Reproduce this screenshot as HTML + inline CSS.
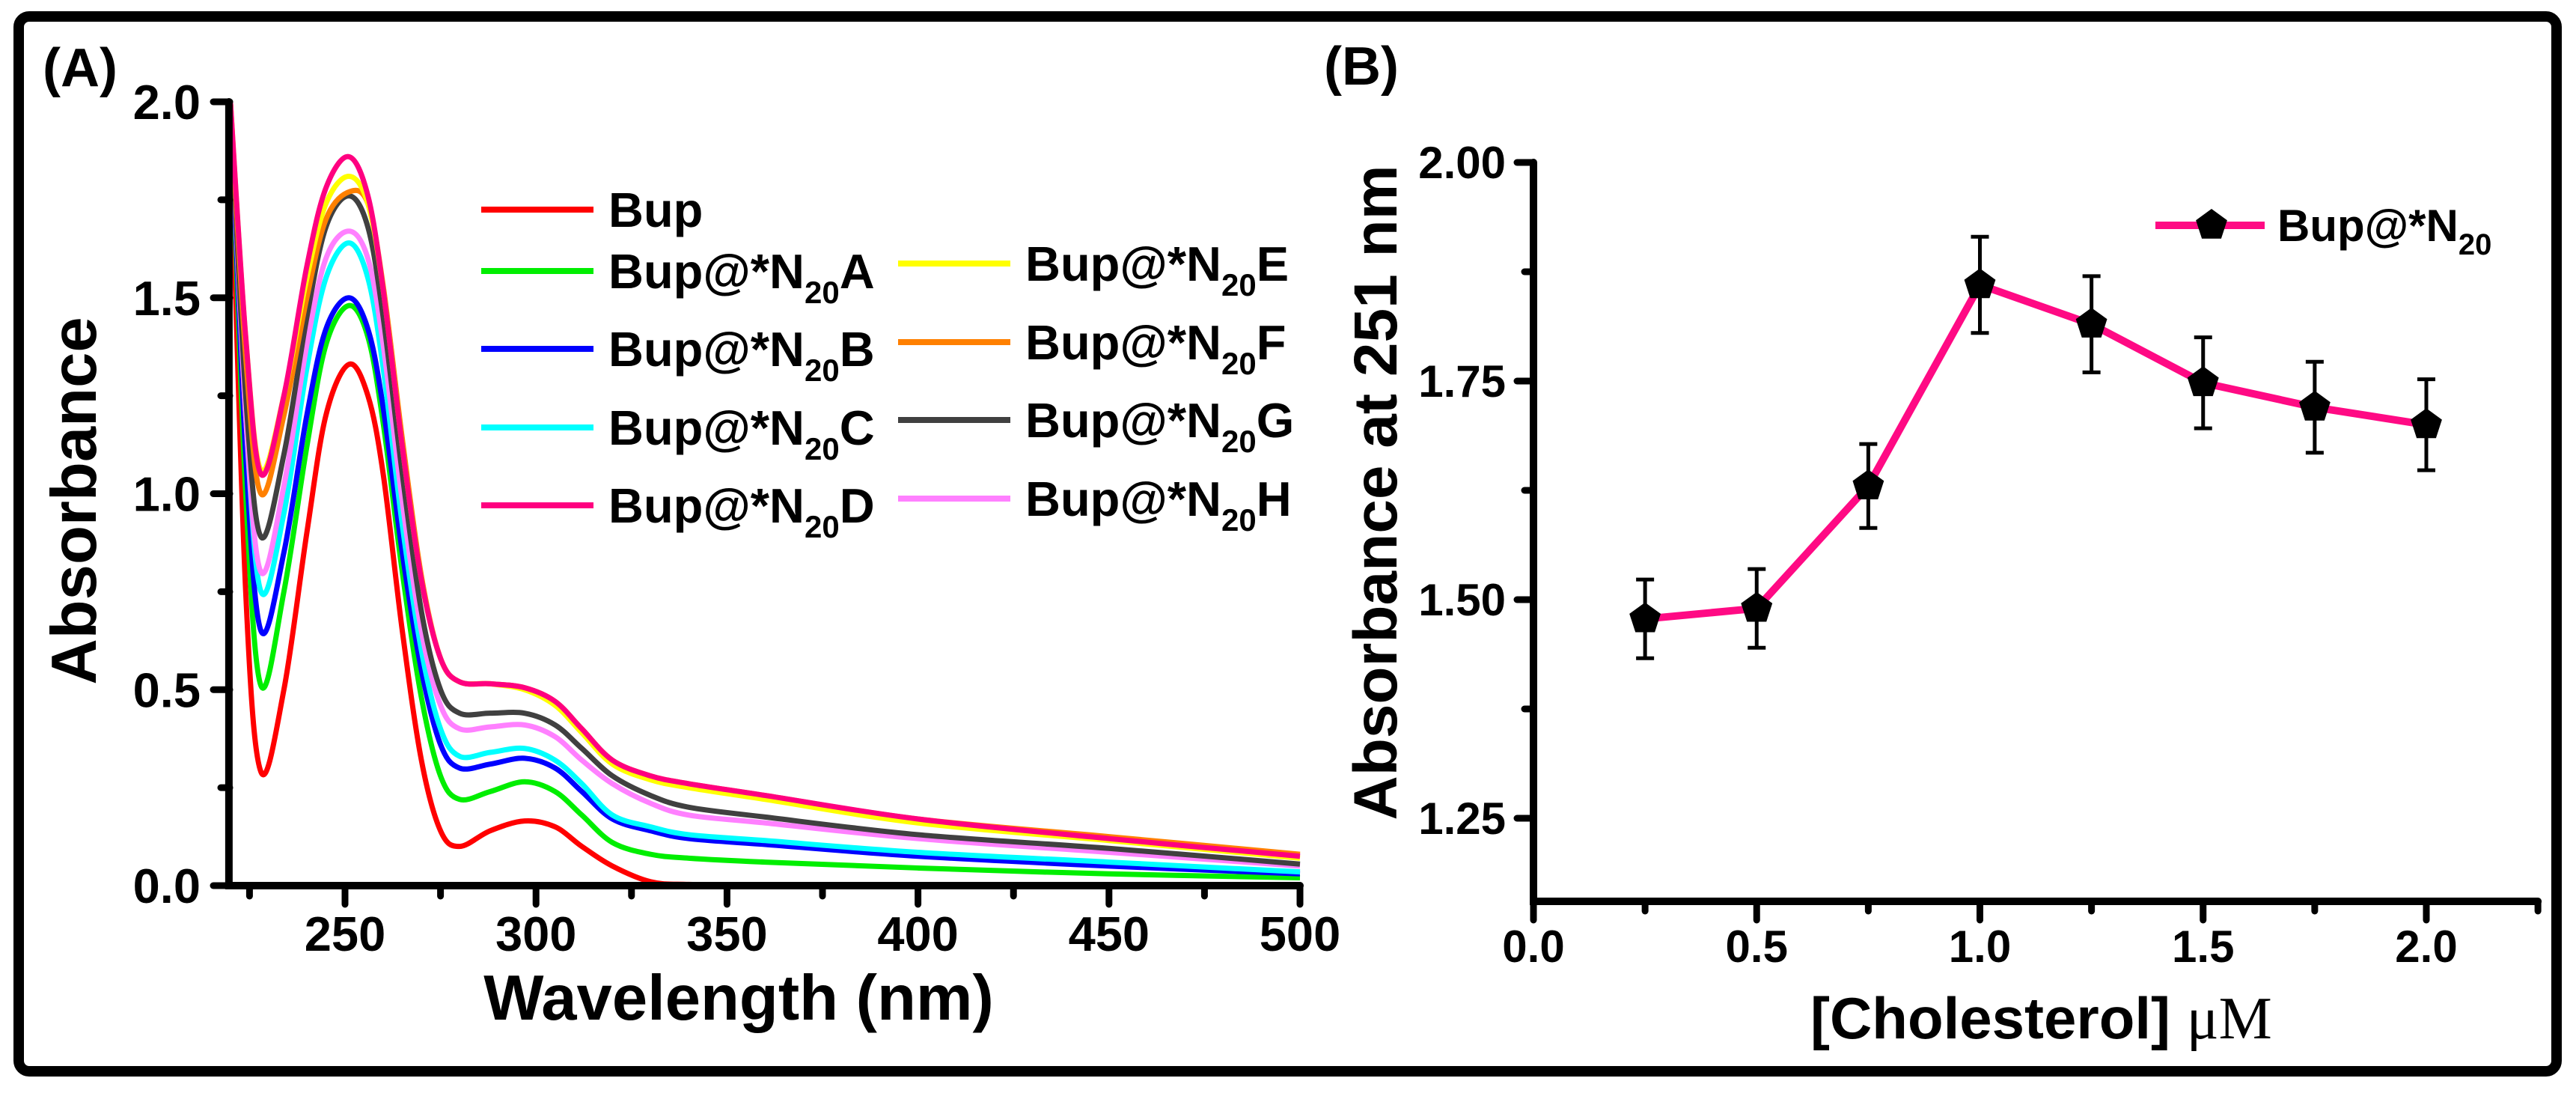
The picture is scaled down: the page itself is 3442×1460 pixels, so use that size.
<!DOCTYPE html>
<html><head><meta charset="utf-8"><style>
html,body{margin:0;padding:0;background:#fff}
svg{display:block}
text{font-family:"Liberation Sans",Arial,sans-serif;font-weight:bold;fill:#000}
</style></head><body>
<svg id="fig" width="3442" height="1460" viewBox="0 0 3442 1460" xmlns="http://www.w3.org/2000/svg">
<rect x="25" y="22" width="3391" height="1409" rx="14" fill="none" stroke="#000" stroke-width="14"/>
<text x="57" y="115" font-size="72">(A)</text>
<text x="1769" y="113" font-size="72">(B)</text>
<g id="gA"></g>
<g id="gB"></g>
</svg>
<script>
// ---------- Panel A data ----------
const wavelengths = [220,224,228,234,240,245,251,256,260,265,270,275,280,288,297,305,312,320,330,340,360,400,450,500];
const seriesNames = ["Bup","Bup@*N20A","Bup@*N20B","Bup@*N20C","Bup@*N20D","Bup@*N20E","Bup@*N20F","Bup@*N20G","Bup@*N20H"];
const seriesColors = ["#ff0000","#00ee00","#0000ff","#00ffff","#ff0080","#ffff00","#ff8000","#404040","#ff80ff"];
const absBup = [1.95,0.75,0.29,0.5,0.9,1.2,1.33,1.25,1.05,0.65,0.32,0.14,0.10,0.14,0.165,0.15,0.10,0.05,0.01,0.003,0.002,0.002,0.002,0.002];
const absA = [2.0,1.0,0.51,0.75,1.12,1.38,1.48,1.40,1.18,0.8,0.48,0.28,0.22,0.24,0.265,0.24,0.18,0.11,0.08,0.07,0.06,0.045,0.03,0.02];
const absB = [2.0,1.1,0.65,0.85,1.2,1.42,1.50,1.42,1.22,0.85,0.55,0.36,0.30,0.31,0.325,0.30,0.24,0.17,0.14,0.12,0.105,0.075,0.05,0.03];
const absC = [2.0,1.2,0.75,0.95,1.32,1.55,1.64,1.55,1.32,0.92,0.6,0.40,0.33,0.34,0.35,0.32,0.26,0.18,0.15,0.13,0.115,0.085,0.06,0.035];
const absD = [2.0,1.4,1.05,1.25,1.58,1.78,1.86,1.76,1.52,1.12,0.78,0.58,0.52,0.515,0.505,0.47,0.40,0.32,0.28,0.26,0.23,0.17,0.12,0.075];
const absE = [2.0,1.4,1.06,1.25,1.55,1.74,1.81,1.74,1.52,1.12,0.78,0.58,0.52,0.515,0.50,0.46,0.39,0.31,0.27,0.25,0.22,0.16,0.115,0.07];
const absF = [2.0,1.35,1.0,1.2,1.5,1.70,1.77,1.74,1.53,1.14,0.79,0.58,0.52,0.515,0.505,0.47,0.40,0.32,0.28,0.26,0.23,0.17,0.125,0.08];
const absG = [2.0,1.25,0.89,1.1,1.45,1.68,1.76,1.68,1.45,1.05,0.7,0.50,0.44,0.44,0.44,0.41,0.35,0.28,0.23,0.20,0.175,0.13,0.095,0.055];
const absH = [2.0,1.2,0.80,1.02,1.38,1.6,1.67,1.6,1.38,0.98,0.65,0.46,0.40,0.405,0.41,0.38,0.32,0.26,0.21,0.18,0.16,0.12,0.085,0.05];
const xTicksA = [250,300,350,400,450,500];
const yTicksA = [0.0,0.5,1.0,1.5,2.0];
const yTickLabelsA = ["0.0","0.5","1.0","1.5","2.0"];

// ---------- Panel B data ----------
const cholesterol = [0.25,0.5,0.75,1.0,1.25,1.5,1.75,2.0];
const abs251 = [1.478,1.49,1.63,1.86,1.815,1.748,1.72,1.70];
const abs251Err = [0.045,0.045,0.048,0.055,0.055,0.052,0.052,0.052];
const xTicksB = [0.0,0.5,1.0,1.5,2.0];
const xTickLabelsB = ["0.0","0.5","1.0","1.5","2.0"];
const yTicksB = [1.25,1.50,1.75,2.00];
const yTickLabelsB = ["1.25","1.50","1.75","2.00"];

const NS="http://www.w3.org/2000/svg";
function mk(tag,attrs,parent){const e=document.createElementNS(NS,tag);for(const k in attrs)e.setAttribute(k,attrs[k]);parent.appendChild(e);return e;}

// ---- Panel A axes ----
const xA = w => 461 + (w-250)*5.104;
const yA = v => 1183 - v*523.5;
const gA = document.getElementById('gA');
function smooth(pts){
  let d=`M${pts[0][0]},${pts[0][1]}`;
  for(let i=0;i<pts.length-1;i++){
    const p0=pts[Math.max(0,i-1)],p1=pts[i],p2=pts[i+1],p3=pts[Math.min(pts.length-1,i+2)];
    const c1=[p1[0]+(p2[0]-p0[0])/6,p1[1]+(p2[1]-p0[1])/6];
    const c2=[p2[0]-(p3[0]-p1[0])/6,p2[1]-(p3[1]-p1[1])/6];
    d+=`C${c1[0]},${c1[1]} ${c2[0]},${c2[1]} ${p2[0]},${p2[1]}`;
  }
  return d;
}
const allSeries=[absBup,absA,absB,absC,absD,absE,absF,absG,absH];
const drawOrder=[0,1,2,3,8,7,6,5,4];
drawOrder.forEach(i=>{
  const pts=wavelengths.map((w,j)=>[xA(w),yA(allSeries[i][j])]);
  const p=mk('path',{d:smooth(pts),fill:'none',stroke:seriesColors[i],'stroke-width':7,'stroke-linejoin':'round'},gA);
  
  
});
// axis lines
let ax=mk('path',{d:`M${xA(220)-2},${yA(2.0)} V${yA(0)} H${xA(500)}`,fill:'none',stroke:'#000','stroke-width':10,'stroke-linecap':'round'},gA);


for(let v=0;v<=2.001;v+=0.25){
  const maj=Math.abs(v*2-Math.round(v*2))<1e-6;
  const t=mk('line',{x1:307,x2:307-(maj?22:12),y1:yA(v),y2:yA(v),stroke:'#000','stroke-width':9,'stroke-linecap':'round'},gA);
  
  
}
yTicksA.forEach((v,i)=>{
  const t=mk('text',{x:268,y:yA(v)+23,'font-size':65,'text-anchor':'end'},gA);t.textContent=yTickLabelsA[i];
  
  
});
for(let w=225;w<=500;w+=25){
  const maj=w%50===0;
  const t=mk('line',{x1:xA(w),x2:xA(w),y1:1183,y2:1183+(maj?25:14),stroke:'#000','stroke-width':9,'stroke-linecap':'round'},gA);
  
  
}
xTicksA.forEach(w=>{
  const t=mk('text',{x:xA(w),y:1270,'font-size':65,'text-anchor':'middle'},gA);t.textContent=String(w);
  
  
});
let tt=mk('text',{x:987,y:1362,'font-size':85,'text-anchor':'middle'},gA);tt.textContent='Wavelength (nm)';


tt=mk('text',{x:0,y:0,'font-size':85,'text-anchor':'middle',transform:'translate(128,669) rotate(-90)'},gA);tt.textContent='Absorbance';


// legend
const legPos=[[643,280],[643,362],[643,466],[643,571],[643,675],[1200,352],[1200,457],[1200,561],[1200,666]];
seriesNames.forEach((n,i)=>{
  const [lx,ly]=legPos[i];
  const g=mk('g',{},gA);
  
  
  mk('line',{x1:lx,x2:lx+150,y1:ly,y2:ly,stroke:seriesColors[i],'stroke-width':8},g);
  const t=mk('text',{x:lx+170,y:ly+23,'font-size':65},g);
  if(n==='Bup'){t.textContent='Bup';}
  else{
    t.textContent='Bup@*N';
    const s=mk('tspan',{'font-size':42,dy:20},t);s.textContent='20';
    const e=mk('tspan',{'font-size':65,dy:-20},t);e.textContent=n.slice(-1);
  }
});

// ---- Panel B ----
const gB=document.getElementById('gB');
const xB = v => 2049 + v*596.5;
const yB = v => 217 + (2-v)*1168;
ax=mk('path',{d:`M2049,${yB(2.0)} V1204 H${xB(2.25)}`,fill:'none',stroke:'#000','stroke-width':10,'stroke-linecap':'round'},gB);


for(let v=1.25;v<=2.001;v+=0.125){
  const maj=Math.abs(v*4-Math.round(v*4))<1e-6;
  const t=mk('line',{x1:2049,x2:2049-(maj?22:12),y1:yB(v),y2:yB(v),stroke:'#000','stroke-width':9,'stroke-linecap':'round'},gB);
  
  
}
yTicksB.forEach((v,i)=>{
  const t=mk('text',{x:2012,y:yB(v)+21,'font-size':60,'text-anchor':'end'},gB);t.textContent=yTickLabelsB[i];
  
  
});
for(let v=0;v<=2.251;v+=0.25){
  const maj=Math.abs(v*2-Math.round(v*2))<1e-6;
  const t=mk('line',{x1:xB(v),x2:xB(v),y1:1204,y2:1204+(maj?25:13),stroke:'#000','stroke-width':9,'stroke-linecap':'round'},gB);
  
  
}
xTicksB.forEach((v,i)=>{
  const t=mk('text',{x:xB(v),y:1285,'font-size':60,'text-anchor':'middle'},gB);t.textContent=xTickLabelsB[i];
  
  
});
tt=mk('text',{x:2419,y:1387,'font-size':78},gB);tt.textContent='[Cholesterol] ';
const mu=mk('tspan',{'font-family':'"Liberation Serif",serif','font-weight':'normal','font-size':80},tt);mu.textContent='μM';


tt=mk('text',{x:0,y:0,'font-size':82,'text-anchor':'middle',transform:'translate(1866,658) rotate(-90)'},gB);tt.textContent='Absorbance at 251 nm';


// line
const ln=mk('polyline',{points:cholesterol.map((c,i)=>xB(c)+','+yB(abs251[i])).join(' '),fill:'none',stroke:'#ff0a84','stroke-width':10,'stroke-linejoin':'round'},gB);


function pent(cx,cy,r){let p=[];for(let k=0;k<5;k++){const a=-Math.PI/2+k*2*Math.PI/5;p.push((cx+r*Math.cos(a)).toFixed(1)+','+(cy+r*Math.sin(a)).toFixed(1));}return p.join(' ');}
cholesterol.forEach((c,i)=>{
  const x=xB(c),y=yB(abs251[i]),e=abs251Err[i];
  const eb=mk('path',{d:`M${x},${yB(abs251[i]+e)} V${yB(abs251[i]-e)} M${x-12},${yB(abs251[i]+e)} H${x+12} M${x-12},${yB(abs251[i]-e)} H${x+12}`,stroke:'#000','stroke-width':5,fill:'none'},gB);
  
  
  const m=mk('polygon',{points:pent(x,y,22),fill:'#000'},gB);
  
  
});
// legend B
const lg=mk('g',{},gB);


mk('line',{x1:2880,x2:3026,y1:301,y2:301,stroke:'#ff0a84','stroke-width':10},lg);
mk('polygon',{points:pent(2955,301,22),fill:'#000'},lg);
const lt=mk('text',{x:3043,y:322,'font-size':60},lg);lt.textContent='Bup@*N';
const ls=mk('tspan',{'font-size':40,dy:18},lt);ls.textContent='20';
</script>
</body></html>
